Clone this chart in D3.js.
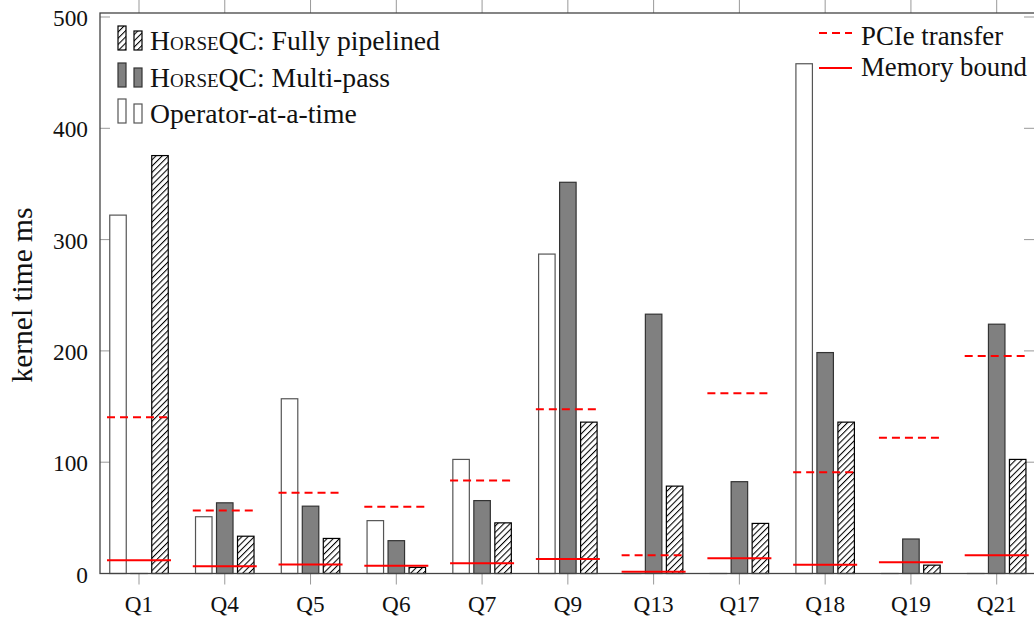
<!DOCTYPE html>
<html>
<head>
<meta charset="utf-8">
<script src="https://cdn.jsdelivr.net/npm/d3@7"></script>
<style>
  html, body { margin: 0; padding: 0; background: #fff; }
  svg { display: block; }
</style>
</head>
<body>
<svg id="chart" width="1034" height="625" font-family="'Liberation Serif', 'DejaVu Serif', serif"></svg>
<script>
const categories = ["Q1","Q4","Q5","Q6","Q7","Q9","Q13","Q17","Q18","Q19","Q21"];
const operatorAtATime = [322, 51, 157, 47.5, 102.5, 287, 0, 0, 458, 0, 0];
const multiPass       = [0, 63.5, 60.5, 29.5, 65.5, 351.5, 233, 82.5, 198.5, 31, 224];
const fullyPipelined  = [375.5, 33.5, 31.5, 5.5, 45.5, 136, 78.5, 45, 136, 7.5, 102.5];
const pcieTransfer    = [140.5, 56.5, 72.5, 60, 83.5, 147.5, 16.5, 162, 91, 122, 195.5];
const memoryBound     = [12, 6.5, 8, 7, 9.3, 13, 1.5, 13.7, 7.8, 10.2, 16.5];
const yTicks = [0, 100, 200, 300, 400, 500];
const yMax = 503.6;

const svg = d3.select("#chart");
const plot = {left: 100, right: 1035, top: 13, bottom: 573.5};
const textColor = "#111";

function fitSize(str, targetW) {
  const t = svg.append("text").attr("font-size", 100).text(str);
  const w = t.node().getComputedTextLength();
  t.remove();
  return w > 0 ? 100 * targetW / w : 24;
}
const tickFont = fitSize("500", 35);
const catFont = fitSize("Q21", 40);
const legendFont = fitSize("Operator-at-a-time", 207);
const rightFont = fitSize("Memory bound", 166);
const labelFont = fitSize("kernel time ms", 175);

const x = d3.scalePoint().domain(categories).range([139, 996.7]);
const y = d3.scaleLinear().domain([0, yMax]).range([plot.bottom, plot.top]);

const barW = 16.5, barOff = 21, lineHalf = 32;

// hatch pattern
const defs = svg.append("defs");
const pat = defs.append("pattern")
  .attr("id", "hatch").attr("patternUnits", "userSpaceOnUse")
  .attr("width", 4.4).attr("height", 4.4)
  .attr("patternTransform", "rotate(45)");
pat.append("rect").attr("width", 4.4).attr("height", 4.4).attr("fill", "#fff");
pat.append("line").attr("x1", 0.5).attr("y1", 0).attr("x2", 0.5).attr("y2", 4.4)
  .attr("stroke", "#000").attr("stroke-width", 1.1);

// ticks
const axisG = svg.append("g");
axisG.selectAll(".xtb").data(categories).join("line")
  .attr("x1", d => x(d)).attr("x2", d => x(d))
  .attr("y1", plot.bottom).attr("y2", plot.bottom + 11)
  .attr("stroke", "#999").attr("stroke-width", 1);
axisG.selectAll(".xtt").data(categories).join("line")
  .attr("x1", d => x(d)).attr("x2", d => x(d))
  .attr("y1", plot.top).attr("y2", 0)
  .attr("stroke", "#999").attr("stroke-width", 1);
axisG.selectAll(".ytl").data(yTicks).join("line")
  .attr("x1", plot.left).attr("x2", plot.left + 10)
  .attr("y1", d => y(d)).attr("y2", d => y(d))
  .attr("stroke", "#999").attr("stroke-width", 1);
axisG.selectAll(".ytr").data(yTicks).join("line")
  .attr("x1", 1024).attr("x2", plot.right)
  .attr("y1", d => y(d)).attr("y2", d => y(d))
  .attr("stroke", "#999").attr("stroke-width", 1);

// bars
const series = [
  {values: operatorAtATime, off: -barOff, fill: "#fff", stroke: "#555"},
  {values: multiPass, off: 0, fill: "#808080", stroke: "#333"},
  {values: fullyPipelined, off: barOff, fill: "url(#hatch)", stroke: "#000"}
];
series.forEach(s => {
  svg.append("g").selectAll("rect").data(categories).join("rect")
    .attr("x", d => x(d) + s.off - barW / 2)
    .attr("width", barW)
    .attr("y", (d, i) => y(s.values[i]))
    .attr("height", (d, i) => Math.max(y(0) - y(s.values[i]), 0.01))
    .attr("fill", s.fill).attr("stroke", s.stroke).attr("stroke-width", 1.2);
});

// red lines
svg.append("g").selectAll("line").data(categories).join("line")
  .attr("x1", d => x(d) - lineHalf).attr("x2", d => x(d) + lineHalf)
  .attr("y1", (d, i) => y(pcieTransfer[i])).attr("y2", (d, i) => y(pcieTransfer[i]))
  .attr("stroke", "#ff0000").attr("stroke-width", 2).attr("stroke-dasharray", "8,5");
svg.append("g").selectAll("line").data(categories).join("line")
  .attr("x1", d => x(d) - lineHalf).attr("x2", d => x(d) + lineHalf)
  .attr("y1", (d, i) => y(memoryBound[i])).attr("y2", (d, i) => y(memoryBound[i]))
  .attr("stroke", "#ff0000").attr("stroke-width", 2);

// frame
svg.append("rect")
  .attr("x", plot.left).attr("y", plot.top)
  .attr("width", plot.right - plot.left).attr("height", plot.bottom - plot.top)
  .attr("fill", "none").attr("stroke", "#444").attr("stroke-width", 1.3);

// tick labels
svg.append("g").selectAll("text").data(categories).join("text")
  .attr("x", d => x(d)).attr("y", 612)
  .attr("text-anchor", "middle").attr("font-size", catFont).attr("fill", textColor)
  .text(d => d);
svg.append("g").selectAll("text").data(yTicks).join("text")
  .attr("x", 88).attr("y", d => y(d) + 1).attr("dy", "0.35em")
  .attr("text-anchor", "end").attr("font-size", tickFont).attr("fill", textColor)
  .text(d => d);

// y label
svg.append("text")
  .attr("transform", `translate(32, 295) rotate(-90)`)
  .attr("text-anchor", "middle").attr("font-size", labelFont).attr("fill", textColor)
  .text("kernel time ms");

// left legend
const legendItems = [
  {fill: "url(#hatch)", stroke: "#000", sc: "Horse", rest: "QC: Fully pipelined", base: 50},
  {fill: "#808080", stroke: "#333", sc: "Horse", rest: "QC: Multi-pass", base: 87},
  {fill: "#fff", stroke: "#555", sc: "", rest: "Operator-at-a-time", base: 123}
];
const lg = svg.append("g");
legendItems.forEach(it => {
  lg.append("rect").attr("x", 118).attr("y", it.base - 24).attr("width", 8).attr("height", 24)
    .attr("fill", it.fill).attr("stroke", it.stroke).attr("stroke-width", 1.2);
  lg.append("rect").attr("x", 134).attr("y", it.base - 19).attr("width", 8).attr("height", 19)
    .attr("fill", it.fill).attr("stroke", it.stroke).attr("stroke-width", 1.2);
  const t = lg.append("text").attr("x", 150).attr("y", it.base)
    .attr("font-size", legendFont).attr("fill", textColor);
  if (it.sc) t.append("tspan").style("font-variant", "small-caps").text(it.sc);
  t.append("tspan").text(it.rest);
});

// right legend
const rl = svg.append("g");
rl.append("line").attr("x1", 819).attr("x2", 852).attr("y1", 33).attr("y2", 33)
  .attr("stroke", "#ff0000").attr("stroke-width", 2).attr("stroke-dasharray", "8,5");
rl.append("text").attr("x", 861).attr("y", 45).attr("font-size", rightFont).attr("fill", textColor)
  .text("PCIe transfer");
rl.append("line").attr("x1", 819).attr("x2", 852).attr("y1", 68).attr("y2", 68)
  .attr("stroke", "#ff0000").attr("stroke-width", 2);
rl.append("text").attr("x", 861).attr("y", 76).attr("font-size", rightFont).attr("fill", textColor)
  .text("Memory bound");
</script>
</body>
</html>
